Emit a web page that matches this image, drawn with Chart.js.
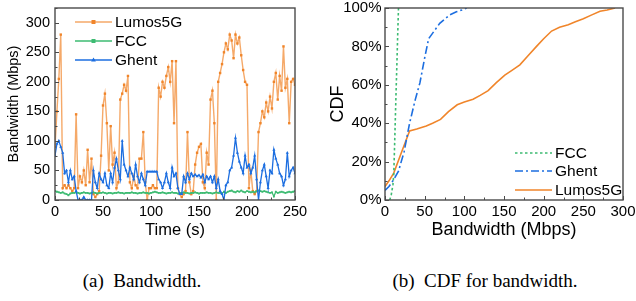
<!DOCTYPE html>
<html>
<head>
<meta charset="utf-8">
<script src="https://cdn.jsdelivr.net/npm/chart.js@4.4.1/dist/chart.umd.min.js"></script>
<style>
  html, body { margin: 0; padding: 0; background: #fff; }
  #wrap { position: relative; width: 636px; height: 301px; overflow: hidden; }
  canvas { position: absolute; top: 0; }
  #bw { left: 0; }
  #cdf { left: 320px; }
  .cap { position: absolute; top: 270px; font-family: 'Liberation Serif', 'Times New Roman', serif; font-size: 19px; color: #000; white-space: pre; transform: translateX(-50%); }
</style>
</head>
<body>
<div id="wrap">
  <canvas id="bw" width="310" height="240"></canvas>
  <canvas id="cdf" width="316" height="241"></canvas>
  <div class="cap" style="left:142px">(a)  Bandwidth.</div>
  <div class="cap" style="left:485px">(b)  CDF for bandwidth.</div>
</div>
<script>
// ---- (a) bandwidth over time ----
const times = [
  0, 2, 4, 6, 8, 10, 12, 14, 16, 18,
  20, 22, 24, 26, 28, 30, 32, 34, 36, 38,
  40, 42, 44, 46, 48, 50, 52, 54, 56, 58,
  60, 62, 64, 66, 68, 70, 72, 74, 76, 78,
  80, 82, 84, 86, 88, 90, 92, 94, 96, 98,
  100, 102, 104, 106, 108, 110, 112, 114, 116, 118,
  120, 122, 124, 126, 128, 130, 132, 134, 136, 138,
  140, 142, 144, 146, 148, 150, 152, 154, 156, 158,
  160, 162, 164, 166, 168, 170, 172, 174, 176, 178,
  180, 182, 184, 186, 188, 190, 192, 194, 196, 198,
  200, 202, 204, 206, 208, 210, 212, 214, 216, 218,
  220, 222, 224, 226, 228, 230, 232, 234, 236, 238,
  240, 242, 244, 246, 248, 250
];
const lumosBw = [
  90, 150, 205, 280, 20, 25, 20, 25, 20, 15,
  20, 145, 20, 40, 30, 50, 25, 85, 30, 70,
  10, 5, 10, 15, 75, 160, 180, 130, 50, 125,
  60, 80, 20, 30, 170, 180, 195, 185, 210, 30,
  20, 40, 25, 20, 70, 70, 115, 30, 0, 20,
  20, 25, 20, 20, 190, 175, 200, 190, 210, 225,
  200, 235, 130, 235, 20, 10, 5, 10, 15, 115,
  30, 10, 15, 60, 80, 90, 95, 30, 20, 80,
  60, 170, 185, 130, 0, 200, 215, 230, 250, 265,
  255, 280, 270, 240, 280, 265, 275, 245, 220, 200,
  195, 20, 50, 15, 10, 15, 115, 130, 150, 140,
  165, 150, 175, 155, 200, 215, 170, 210, 185, 260,
  190, 205, 130, 200, 205, 195
];
const fccBw = [
  15, 14, 13, 12, 13, 11, 10, 8, 11, 12,
  12, 13, 12, 11, 12, 13, 12, 12, 11, 12,
  13, 12, 11, 12, 12, 13, 12, 11, 12, 12,
  11, 12, 12, 13, 12, 12, 11, 12, 12, 12,
  13, 12, 12, 11, 12, 12, 13, 12, 12, 11,
  12, 13, 14, 13, 12, 12, 13, 12, 11, 12,
  12, 13, 12, 12, 11, 12, 12, 13, 12, 12,
  11, 12, 12, 13, 12, 11, 12, 12, 12, 13,
  12, 12, 11, 12, 13, 12, 12, 11, 14, 12,
  14, 15, 16, 14, 13, 15, 14, 16, 14, 13,
  15, 14, 13, 14, 13, 15, 16, 15, 14, 15,
  14, 13, 12, 13, 6, 14, 12, 13, 14, 13,
  12, 13, 14, 13, 14, 15
];
const ghentBw = [
  75, 95, 100, 90, 80, 45, 50, 30, 50, 35,
  40, 15, 0, 0, 0, 5, 0, 0, 0, 0,
  50, 30, 20, 45, 35, 30, 45, 25, 20, 45,
  30, 55, 70, 50, 35, 100, 60, 50, 40, 55,
  45, 35, 60, 40, 30, 45, 35, 25, 48, 48,
  48, 48, 48, 48, 35, 30, 20, 30, 45, 30,
  20, 55, 40, 45, 20, 10, 10, 40, 30, 45,
  35, 45, 40, 43, 40, 42, 38, 43, 30, 40,
  35, 40, 30, 40, 20, 35, 15, 10, 0, 25,
  30, 50, 55, 75, 105, 80, 65, 55, 45, 75,
  55, 60, 45, 55, 75, 35, 0, 30, 50, 60,
  40, 20, 50, 45, 85, 70, 60, 45, 40, 25,
  35, 80, 40, 50, 55, 45
];

// ---- (b) CDF ----
const fccCdfX = [6, 8, 10, 11, 12, 13, 14, 15, 16, 17];
const fccCdfY = [0, 3, 8, 13, 27, 42, 57, 71, 86, 100];
const ghentCdfX = [0, 5, 10, 17, 24, 31, 38, 44, 50, 55, 62, 69, 76, 82, 90, 97, 103];
const ghentCdfY = [5, 7, 10, 15, 25, 40, 52, 61, 74, 84, 88, 92, 94.5, 96.5, 98, 99, 100];
const lumosCdfX = [0, 5, 11, 20, 31, 40, 52, 60, 70, 80, 91, 100, 111, 120, 130, 140, 151, 160, 170, 180, 191, 200, 210, 220, 231, 240, 250, 260, 271, 280, 290];
const lumosCdfY = [7, 10, 14, 24, 36, 37, 38.6, 40, 42, 46, 49.6, 51, 52.5, 54.5, 57, 61, 65, 67.5, 70.4, 75, 80, 84, 88, 90, 91.3, 92.8, 94.4, 96.3, 98.3, 99, 100];

const FONT = "'Liberation Sans', Arial, Helvetica, sans-serif";
const ORANGE = '#f0852a';
const ORANGE_LINE = 'rgba(242,140,55,0.75)';
const GREEN = '#3dbb72';
const BLUE = '#1c6ee0';

function xy(xs, ys) {
  return xs.map((x, i) => ({ x: x, y: ys[i] }));
}

// draws the box around the plot and the inward tick marks
const frame = {
  id: 'frame',
  afterDatasetsDraw(chart) {
    const ctx = chart.ctx;
    const a = chart.chartArea;
    ctx.save();
    ctx.strokeStyle = '#4a4a4a';
    ctx.lineWidth = 1.4;
    ctx.strokeRect(a.left, a.top, a.right - a.left, a.bottom - a.top);
    ctx.lineWidth = 1;
    ctx.beginPath();
    chart.scales.x.ticks.forEach(t => {
      const px = Math.round(chart.scales.x.getPixelForValue(t.value)) + 0.5;
      const len = t.label === '' ? 2.5 : 4;
      ctx.moveTo(px, a.bottom);
      ctx.lineTo(px, a.bottom - len);
    });
    chart.scales.y.ticks.forEach(t => {
      const py = Math.round(chart.scales.y.getPixelForValue(t.value)) + 0.5;
      const len = t.label === '' ? 2.5 : 4;
      ctx.moveTo(a.left, py);
      ctx.lineTo(a.left + len, py);
    });
    ctx.stroke();
    ctx.restore();
  }
};

// legend drawn inside the plot area
function legendPlugin(items) {
  return {
    id: 'innerLegend',
    afterDraw(chart) {
      const ctx = chart.ctx;
      ctx.save();
      items.forEach(it => {
        ctx.strokeStyle = it.color;
        ctx.lineWidth = 1.5;
        ctx.setLineDash(it.dash || []);
        ctx.beginPath();
        ctx.moveTo(it.x0, it.y);
        ctx.lineTo(it.x1, it.y);
        ctx.stroke();
        ctx.setLineDash([]);
        if (it.marker) {
          const mx = (it.x0 + it.x1) / 2;
          ctx.fillStyle = it.markerColor || it.color;
          ctx.beginPath();
          if (it.marker === 'rect') {
            ctx.rect(mx - 2, it.y - 2, 4, 4);
          } else if (it.marker === 'triangle') {
            ctx.moveTo(mx, it.y - 2.6);
            ctx.lineTo(mx + 2.4, it.y + 1.6);
            ctx.lineTo(mx - 2.4, it.y + 1.6);
            ctx.closePath();
          } else {
            ctx.arc(mx, it.y, 1.8, 0, Math.PI * 2);
          }
          ctx.fill();
        }
        ctx.fillStyle = '#000';
        ctx.font = '15.5px ' + FONT;
        ctx.textBaseline = 'middle';
        ctx.textAlign = 'left';
        ctx.fillText(it.label, it.x1 + 3, it.y + 1);
      });
      ctx.restore();
    }
  };
}

function fixScale(width, height) {
  return function(scale) {
    if (width !== null) scale.width = width;
    if (height !== null) scale.height = height;
    scale.paddingLeft = 0;
    scale.paddingRight = 0;
    scale.paddingTop = 0;
    scale.paddingBottom = 0;
  };
}

new Chart(document.getElementById('bw').getContext('2d'), {
  type: 'line',
  data: {
    labels: times,
    datasets: [
      {
        label: 'Lumos5G', data: lumosBw, order: 3,
        borderColor: ORANGE_LINE, borderWidth: 1.4,
        pointStyle: 'rect', pointRadius: 1.7, pointBackgroundColor: ORANGE, pointBorderWidth: 0
      },
      {
        label: 'FCC', data: fccBw, order: 2,
        borderColor: GREEN, borderWidth: 1.3,
        pointStyle: 'rect', pointRadius: 1.3, pointBackgroundColor: GREEN, pointBorderWidth: 0
      },
      {
        label: 'Ghent', data: ghentBw, order: 1,
        borderColor: BLUE, borderWidth: 1.3,
        pointStyle: 'triangle', pointRadius: 1.8, pointBackgroundColor: BLUE, pointBorderWidth: 0
      }
    ]
  },
  options: {
    responsive: false,
    animation: false,
    devicePixelRatio: 1,
    layout: { padding: { left: 5, right: 15, top: 8, bottom: 0 } },
    plugins: { legend: { display: false }, tooltip: { enabled: false } },
    elements: { line: { tension: 0 } },
    scales: {
      x: {
        type: 'linear', min: 0, max: 250,
        grid: { display: false, drawTicks: false },
        border: { display: false },
        ticks: {
          stepSize: 25, padding: 3, maxRotation: 0, autoSkip: false,
          color: '#000', font: { family: FONT, size: 14.5 },
          callback: v => v % 50 === 0 ? String(v) : ''
        },
        title: { display: true, text: 'Time (s)', color: '#000', padding: 0, font: { family: FONT, size: 16.5 } },
        afterFit: fixScale(null, 40)
      },
      y: {
        min: 0, max: 325,
        grid: { display: false, drawTicks: false },
        border: { display: false },
        ticks: {
          stepSize: 25, padding: 5, autoSkip: false,
          color: '#000', font: { family: FONT, size: 14.5 },
          callback: v => v % 50 === 0 ? String(v) : ''
        },
        title: { display: true, text: 'Bandwidth (Mbps)', color: '#000', padding: 0, font: { family: FONT, size: 14.5 } },
        afterFit: fixScale(50, null)
      }
    }
  },
  plugins: [frame, legendPlugin([
    { label: 'Lumos5G', color: ORANGE_LINE, markerColor: ORANGE, marker: 'rect', x0: 75, x1: 112, y: 22 },
    { label: 'FCC', color: GREEN, marker: 'rect', x0: 75, x1: 112, y: 41 },
    { label: 'Ghent', color: BLUE, marker: 'triangle', x0: 75, x1: 112, y: 60 }
  ])]
});

new Chart(document.getElementById('cdf').getContext('2d'), {
  type: 'line',
  data: {
    datasets: [
      {
        label: 'FCC', data: xy(fccCdfX, fccCdfY),
        borderColor: GREEN, borderWidth: 1.6, borderDash: [2.5, 2.5], pointRadius: 0
      },
      {
        label: 'Ghent', data: xy(ghentCdfX, ghentCdfY),
        borderColor: BLUE, borderWidth: 1.6, borderDash: [8, 3, 2, 3], pointRadius: 0
      },
      {
        label: 'Lumos5G', data: xy(lumosCdfX, lumosCdfY),
        borderColor: ORANGE, borderWidth: 1.6, pointRadius: 0
      }
    ]
  },
  options: {
    responsive: false,
    animation: false,
    devicePixelRatio: 1,
    layout: { padding: { left: 7, right: 13, top: 8, bottom: 0 } },
    plugins: { legend: { display: false }, tooltip: { enabled: false } },
    elements: { line: { tension: 0 } },
    scales: {
      x: {
        type: 'linear', min: 0, max: 300,
        grid: { display: false, drawTicks: false },
        border: { display: false },
        ticks: {
          stepSize: 25, padding: 3, maxRotation: 0, autoSkip: false,
          color: '#000', font: { family: FONT, size: 15 },
          callback: v => v % 50 === 0 ? String(v) : ''
        },
        title: { display: true, text: 'Bandwidth (Mbps)', color: '#000', padding: 0, font: { family: FONT, size: 18 } },
        afterFit: fixScale(null, 41)
      },
      y: {
        min: 0, max: 100,
        grid: { display: false, drawTicks: false },
        border: { display: false },
        ticks: {
          stepSize: 10, padding: 3.5, autoSkip: false,
          color: '#000', font: { family: FONT, size: 15 },
          callback: v => v % 20 === 0 ? v + '%' : ''
        },
        title: { display: true, text: 'CDF', color: '#000', padding: 0, font: { family: FONT, size: 18 } },
        afterFit: fixScale(58, null)
      }
    }
  },
  plugins: [frame, legendPlugin([
    { label: 'FCC', color: GREEN, dash: [2.5, 2.5], x0: 195, x1: 232, y: 153 },
    { label: 'Ghent', color: BLUE, dash: [8, 3, 2, 3], x0: 195, x1: 232, y: 171 },
    { label: 'Lumos5G', color: ORANGE, x0: 195, x1: 232, y: 190 }
  ])]
});
</script>
</body>
</html>
